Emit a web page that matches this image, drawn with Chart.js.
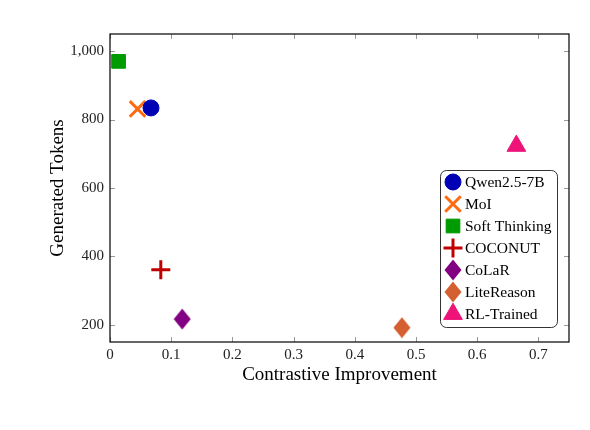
<!DOCTYPE html>
<html>
<head>
<meta charset="utf-8">
<script src="https://cdn.jsdelivr.net/npm/chart.js@4"></script>
<style>
  html, body { margin: 0; padding: 0; background: #fff; }
  #wrap { width: 590px; height: 430px; }
</style>
</head>
<body>
<div id="wrap"><canvas id="myChart" width="590" height="430"></canvas></div>
<script>
// values
var methods = ['Qwen2.5-7B', 'MoI', 'Soft Thinking', 'COCONUT', 'CoLaR', 'LiteReason', 'RL-Trained'];
var improvement = [0.067, 0.045, 0.014, 0.083, 0.118, 0.477, 0.664];
var tokens = [834, 831, 970, 361, 217, 192, 723];
var xTicks = [0, 0.1, 0.2, 0.3, 0.4, 0.5, 0.6, 0.7];
var yTicks = [200, 400, 600, 800, 1000];

var colors = ['#0000b4', '#ff6a10', '#009b00', '#c00000', '#820082', '#d45f30', '#ee1378'];
var FONT = '"Liberation Serif", "DejaVu Serif", serif';

// tall diamond like pgfplots
function diamond(color) {
  var c = document.createElement('canvas');
  c.width = 18; c.height = 22;
  var g = c.getContext('2d');
  g.fillStyle = color;
  g.beginPath();
  g.moveTo(9, 0.5); g.lineTo(17.5, 11); g.lineTo(9, 21.5); g.lineTo(0.5, 11);
  g.closePath(); g.fill();
  return c;
}

var styles = [
  { pointStyle: 'circle', radius: 8, borderWidth: 1 },
  { pointStyle: 'crossRot', radius: 11, borderWidth: 3 },
  { pointStyle: 'rect', radius: 9.7, borderWidth: 1 },
  { pointStyle: 'cross', radius: 9.5, borderWidth: 3 },
  { pointStyle: diamond(colors[4]), radius: 10, borderWidth: 1 },
  { pointStyle: diamond(colors[5]), radius: 10, borderWidth: 1 },
  { pointStyle: 'triangle', radius: 10.8, borderWidth: 1 }
];

var datasets = methods.map(function(name, i) {
  return {
    label: name,
    data: [{ x: improvement[i], y: tokens[i] }],
    backgroundColor: colors[i],
    borderColor: colors[i],
    pointStyle: styles[i].pointStyle,
    pointRadius: styles[i].radius,
    pointHoverRadius: styles[i].radius,
    pointBorderWidth: styles[i].borderWidth
  };
});

// frame + inward ticks on all four sides
var framePlugin = {
  id: 'frame',
  afterDatasetsDraw: function(chart) {
    var ctx = chart.ctx, a = chart.chartArea;
    var xs = chart.scales.x, ys = chart.scales.y;
    ctx.save();
    ctx.strokeStyle = '#999';
    ctx.lineWidth = 1;
    xTicks.forEach(function(v) {
      var px = Math.round(xs.getPixelForValue(v)) + 0.5;
      ctx.beginPath();
      ctx.moveTo(px, a.bottom); ctx.lineTo(px, a.bottom - 5);
      ctx.moveTo(px, a.top); ctx.lineTo(px, a.top + 5);
      ctx.stroke();
    });
    yTicks.forEach(function(v) {
      var py = Math.round(ys.getPixelForValue(v)) + 0.5;
      ctx.beginPath();
      ctx.moveTo(a.left, py); ctx.lineTo(a.left + 5, py);
      ctx.moveTo(a.right, py); ctx.lineTo(a.right - 5, py);
      ctx.stroke();
    });
    ctx.strokeStyle = '#000';
    ctx.lineWidth = 1.2;
    ctx.strokeRect(a.left, a.top, a.right - a.left, a.bottom - a.top);
    ctx.restore();
  }
};

// legend box inside the plot, lower right
var legendPlugin = {
  id: 'boxLegend',
  afterDraw: function(chart) {
    var ctx = chart.ctx;
    var bx = 440.5, by = 170.5, bw = 117, bh = 157, r = 6;
    ctx.save();
    ctx.fillStyle = '#fff';
    ctx.strokeStyle = '#333';
    ctx.lineWidth = 1;
    ctx.beginPath();
    ctx.roundRect(bx, by, bw, bh, r);
    ctx.fill();
    ctx.stroke();
    ctx.font = '15.5px ' + FONT;
    ctx.textBaseline = 'middle';
    methods.forEach(function(name, i) {
      var cy = 182 + i * 22;
      var st = styles[i];
      ctx.fillStyle = colors[i];
      ctx.strokeStyle = colors[i];
      ctx.lineWidth = st.borderWidth;
      Chart.helpers.drawPoint(ctx, { pointStyle: st.pointStyle, radius: st.radius, borderWidth: st.borderWidth }, 453, cy);
      ctx.fillStyle = '#000';
      ctx.fillText(name, 465, cy + 1);
    });
    ctx.restore();
  }
};

var ctx = document.getElementById('myChart').getContext('2d');
var chart = new Chart(ctx, {
  type: 'scatter',
  data: { datasets: datasets },
  options: {
    responsive: false,
    animation: false,
    layout: { padding: { left: 43, top: 34, right: 21, bottom: 40 } },
    plugins: { legend: { display: false }, tooltip: { enabled: false } },
    scales: {
      x: {
        type: 'linear', min: 0, max: 0.75,
        grid: { display: false }, border: { display: false },
        afterBuildTicks: function(s) { s.ticks = xTicks.map(function(v) { return { value: v }; }); },
        afterFit: function(s) { s.height = 48; },
        ticks: {
          color: '#222', padding: -4,
          font: { family: FONT, size: 15 },
          callback: function(v) { return String(v); }
        },
        title: { display: true, text: 'Contrastive Improvement', color: '#000', padding: { top: 0 },
          font: { family: FONT, size: 19 } }
      },
      y: {
        type: 'linear', min: 150, max: 1050,
        grid: { display: false }, border: { display: false },
        afterBuildTicks: function(s) { s.ticks = yTicks.map(function(v) { return { value: v }; }); },
        afterFit: function(s) { s.width = 67; },
        ticks: {
          color: '#222', padding: -2,
          font: { family: FONT, size: 15 },
          callback: function(v) { return v.toLocaleString('en-US'); }
        },
        title: { display: true, text: 'Generated Tokens', color: '#000', padding: { bottom: 0 },
          font: { family: FONT, size: 19 } }
      }
    }
  },
  plugins: [framePlugin, legendPlugin]
});
</script>
</body>
</html>
